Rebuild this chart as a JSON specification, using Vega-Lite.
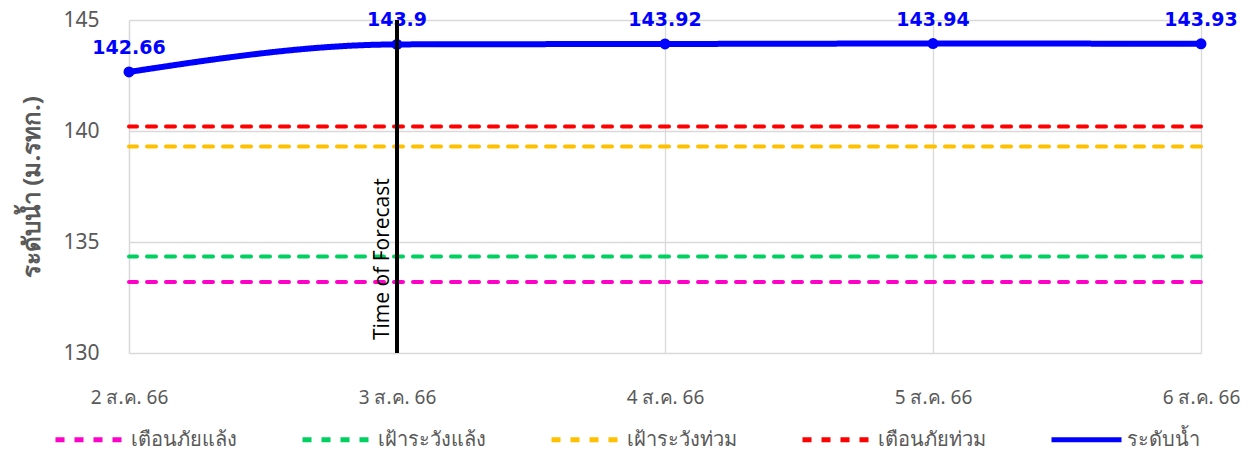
{
  "$schema": "https://vega.github.io/schema/vega-lite/v6.json",
  "width": 1072,
  "height": 333,
  "autosize": {"type": "none"},
  "padding": {"left": 129, "top": 20, "right": 56, "bottom": 100},
  "background": "white",
  "config": {
    "view": {"stroke": null},
    "font": "Noto Sans",
    "axis": {"labelFont": "Noto Sans", "labelColor": "#595959", "labelFontSize": 19, "gridColor": "#d9d9d9", "gridWidth": 1.3, "domainColor": "#d9d9d9", "ticks": false}
  },
  "datasets": {
    "water": [
      {"date": "2 ส.ค. 66", "value": 142.66, "series": "ระดับน้ำ"},
      {"date": "3 ส.ค. 66", "value": 143.9, "series": "ระดับน้ำ"},
      {"date": "4 ส.ค. 66", "value": 143.92, "series": "ระดับน้ำ"},
      {"date": "5 ส.ค. 66", "value": 143.94, "series": "ระดับน้ำ"},
      {"date": "6 ส.ค. 66", "value": 143.93, "series": "ระดับน้ำ"}
    ],
    "thresholds": [
      {"series": "เตือนภัยแล้ง", "value": 133.2},
      {"series": "เฝ้าระวังแล้ง", "value": 134.35},
      {"series": "เฝ้าระวังท่วม", "value": 139.3},
      {"series": "เตือนภัยท่วม", "value": 140.2}
    ],
    "forecast": [
      {"date": "3 ส.ค. 66", "label": "Time of Forecast", "base": 130}
    ]
  },
  "layer": [
    {
      "data": {"name": "water"},
      "mark": {"type": "point", "opacity": 0},
      "encoding": {
        "x": {"field": "date", "type": "ordinal", "sort": null, "scale": {"type": "point", "padding": 0},
          "axis": {"title": null, "labelAngle": 0, "labelPadding": 35, "grid": true, "domain": false}},
        "y": {"field": "value", "type": "quantitative", "scale": {"domain": [130, 145], "nice": false, "zero": false},
          "axis": {"values": [130, 135, 140, 145], "title": "ระดับน้ำ (ม.รทก.)", "titleFontSize": 24, "titleFontWeight": "bold", "titleColor": "#595959", "titleFont": "Noto Sans", "titlePadding": 18, "labelPadding": 30, "labelFontSize": 21, "domain": true, "domainColor": "#d9d9d9", "domainWidth": 1.3}}
      }
    },
    {
      "data": {"name": "thresholds"},
      "mark": {"type": "rule", "strokeWidth": 4, "strokeCap": "round"},
      "encoding": {
        "y": {"field": "value", "type": "quantitative"},
        "color": {"field": "series", "type": "nominal"},
        "strokeDash": {"field": "series", "type": "nominal"}
      }
    },
    {
      "data": {"name": "water"},
      "mark": {"type": "line", "strokeWidth": 6, "interpolate": "monotone", "point": {"filled": true, "size": 120, "color": "#0000FF"}},
      "encoding": {
        "x": {"field": "date", "type": "ordinal", "sort": null},
        "y": {"field": "value", "type": "quantitative"},
        "color": {"field": "series", "type": "nominal",
          "scale": {"domain": ["เตือนภัยแล้ง", "เฝ้าระวังแล้ง", "เฝ้าระวังท่วม", "เตือนภัยท่วม", "ระดับน้ำ"],
            "range": ["#FF00C8", "#00D060", "#FFC000", "#FF0000", "#0000FF"]},
          "legend": {"title": null, "orient": "none", "legendX": -76, "legendY": 382, "direction": "horizontal", "columns": 5, "symbolType": "stroke", "symbolSize": 4900, "symbolStrokeWidth": 5, "labelFontSize": 20, "labelColor": "#595959", "labelFont": "Noto Sans", "labelOffset": 3, "columnPadding": 55, "labelLimit": 200}},
        "strokeDash": {"field": "series", "type": "nominal",
          "scale": {"domain": ["เตือนภัยแล้ง", "เฝ้าระวังแล้ง", "เฝ้าระวังท่วม", "เตือนภัยท่วม", "ระดับน้ำ"],
            "range": [[9, 10], [9, 10], [9, 10], [9, 10], [1, 0]]},
          "legend": {"title": null, "orient": "none", "legendX": -76, "legendY": 382, "direction": "horizontal", "columns": 5, "symbolType": "stroke", "symbolSize": 4900, "symbolStrokeWidth": 5, "labelFontSize": 20, "labelColor": "#595959", "labelFont": "Noto Sans", "labelOffset": 3, "columnPadding": 55, "labelLimit": 200}}
      }
    },
    {
      "data": {"name": "water"},
      "mark": {"type": "text", "color": "#0000FF", "fontWeight": "bold", "fontSize": 19, "font": "DejaVu Sans", "dy": -24},
      "encoding": {
        "x": {"field": "date", "type": "ordinal", "sort": null},
        "y": {"field": "value", "type": "quantitative"},
        "text": {"field": "value", "type": "quantitative"}
      }
    },
    {
      "data": {"name": "forecast"},
      "mark": {"type": "rule", "color": "black", "strokeWidth": 4},
      "encoding": {
        "x": {"field": "date", "type": "ordinal"}
      }
    },
    {
      "data": {"name": "forecast"},
      "mark": {"type": "text", "angle": 270, "align": "left", "baseline": "middle", "fontSize": 21, "font": "Open Sans", "color": "#000000", "dx": 13, "dy": -14},
      "encoding": {
        "x": {"field": "date", "type": "ordinal"},
        "y": {"field": "base", "type": "quantitative"},
        "text": {"field": "label"}
      }
    }
  ]
}
